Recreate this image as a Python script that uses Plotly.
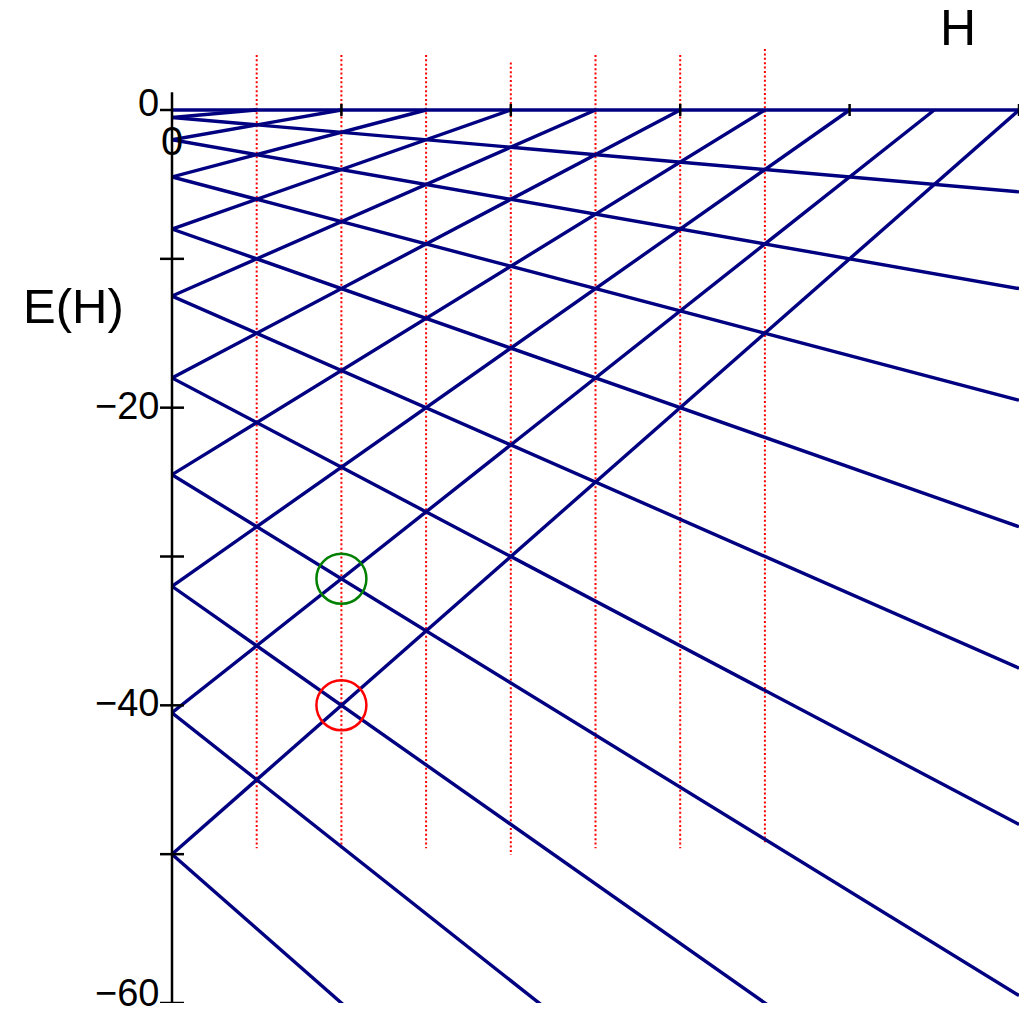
import plotly.graph_objects as go

# Level index n and zero-field energies E0 = -n^2/2
levels = [0, 1, 2, 3, 4, 5, 6, 7, 8, 9, 10]
e_zero = [0.0, -0.5, -2.0, -4.5, -8.0, -12.5, -18.0, -24.5, -32.0, -40.5, -50.0]
slopes = [0, 1, 2, 3, 4, 5, 6, 7, 8, 9, 10]

# Dotted guide lines: field positions with their top / bottom energies
guide_h = [0.5, 1.0, 1.5, 2.0, 2.5, 3.0, 3.5]
guide_top = [3.7, 3.7, 3.7, 3.2, 3.7, 3.7, 4.1]
guide_bottom = [-49.6, -49.6, -49.6, -50.05, -49.6, -49.6, -49.2]

# Marked crossings
green_pt = (1.0, -31.5)
red_pt = (1.0, -40.0)

y_ticks = [0, -10, -20, -30, -40, -50, -60]
y_labels = {0: "0", -20: "\u221220", -40: "\u221240", -60: "\u221260"}
x_ticks = [1, 2, 3, 4, 5]

H_MAX = 5.0
E_MIN, E_TOP = -60.0, 7.391
FONT = "Liberation Sans, Arial, sans-serif"

fig = go.Figure()

# dotted red guides
gx, gy = [], []
for h, t, b in zip(guide_h, guide_top, guide_bottom):
    gx += [h, h, None]
    gy += [t, b, None]
fig.add_trace(go.Scatter(x=gx, y=gy, mode="lines",
                         line=dict(color="red", width=2, dash="2px,2.4px"),
                         hoverinfo="skip", showlegend=False))

# level fan: E = E0 + s*H (rising, stops at E=0) and E0 - s*H (falling)
lx, ly = [], []
for n, e0, s in zip(levels, e_zero, slopes):
    if s == 0:
        lx += [0, H_MAX, None]
        ly += [e0, e0, None]
        continue
    h_up = min(H_MAX, -e0 / s)
    lx += [0, h_up, None]
    ly += [e0, e0 + s * h_up, None]
    lx += [0, H_MAX, None]
    ly += [e0, e0 - s * H_MAX, None]
fig.add_trace(go.Scatter(x=lx, y=ly, mode="lines",
                         line=dict(color="#000080", width=3.4),
                         hoverinfo="skip", showlegend=False))

# circled crossings
for pt, col in ((green_pt, "green"), (red_pt, "red")):
    fig.add_trace(go.Scatter(x=[pt[0]], y=[pt[1]], mode="markers",
                             marker=dict(symbol="circle-open", size=50,
                                         color=col, line=dict(color=col, width=2.5)),
                             hoverinfo="skip", showlegend=False, cliponaxis=False))

shapes = []
# vertical axis line (paper x so it is not clipped at the plot edge)
shapes.append(dict(type="line", xref="paper", yref="y", x0=0, x1=0, y0=E_MIN, y1=1.2,
                   line=dict(color="black", width=2.5), layer="above"))
# y ticks crossing the axis
for v in y_ticks:
    shapes.append(dict(type="line", xref="paper", yref="y", xsizemode="pixel", xanchor=0,
                       x0=-12, x1=0 if v == 0 else 12,
                       y0=v, y1=v, line=dict(color="black", width=2.5), layer="above"))
# x ticks on the E=0 line
for h in x_ticks:
    shapes.append(dict(type="line", xref="x", yref="y", ysizemode="pixel", yanchor=0,
                       y0=-6, y1=6, x0=h, x1=h, line=dict(color="black", width=2.5),
                       layer="above"))

annotations = []
label_shift = {0: 7, -20: 2, -40: 2, -60: 10}
for v, txt in y_labels.items():
    annotations.append(dict(x=0, y=v, xref="paper", yref="y", text=txt, showarrow=False,
                            xanchor="right", yanchor="middle", xshift=-11,
                            yshift=label_shift[v],
                            font=dict(family=FONT, size=38, color="black")))
# origin label for the field axis
annotations.append(dict(x=0, y=0, xref="x", yref="y", text="0", showarrow=False,
                        xanchor="center", yanchor="middle", yshift=-31,
                        font=dict(family=FONT, size=40, color="black")))
annotations.append(dict(x=73, y=1016 - 306, xref="paper", yref="paper", text="E(H)",
                        showarrow=False, xanchor="center", yanchor="middle",
                        font=dict(family=FONT, size=49, color="black")))
annotations.append(dict(x=958, y=1016 - 28, xref="paper", yref="paper", text="H",
                        showarrow=False, xanchor="center", yanchor="middle",
                        font=dict(family=FONT, size=50, color="black")))

# paper-pixel annotations: convert to paper fractions of the plot area
plot_w, plot_h = 1019 - 172, 1016 - 13
for a in annotations[len(y_labels) + 1:]:
    a["x"] = (a["x"] - 172) / plot_w
    a["y"] = (a["y"] - 13) / plot_h

fig.update_layout(
    width=1019, height=1016,
    margin=dict(l=172, r=0, t=0, b=13),
    paper_bgcolor="white", plot_bgcolor="white",
    xaxis=dict(range=[0, H_MAX], visible=False, fixedrange=True),
    yaxis=dict(range=[E_MIN, E_TOP], visible=False, fixedrange=True),
    shapes=shapes, annotations=annotations,
)

fig.write_html("out.html")
